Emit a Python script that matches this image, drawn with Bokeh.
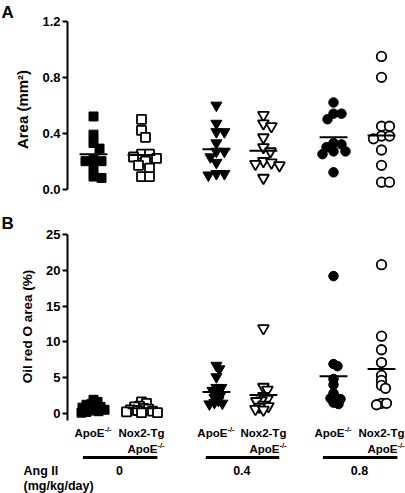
import numpy as np
from bokeh.plotting import figure
from bokeh.layouts import column
from bokeh.models import FixedTicker, PrintfTickFormatter, Title
from bokeh.core.properties import value
from bokeh.embed import file_html
from bokeh.resources import INLINE

# ---------------- data ----------------
genotypes = ["ApoE", "Nox2-Tg", "ApoE", "Nox2-Tg", "ApoE", "Nox2-Tg"]
doses = ["0", "0.4", "0.8"]
positions = [0.0, 1.0, 2.56, 3.54, 5.0, 6.0]

area_apoe_0 = [0.52, 0.39, 0.33, 0.29, 0.21, 0.20, 0.20, 0.15, 0.08, 0.09]
area_nox_0 = [0.50, 0.42, 0.37, 0.25, 0.25, 0.23, 0.22, 0.20, 0.17, 0.15, 0.09, 0.09]
area_apoe_04 = [0.60, 0.47, 0.41, 0.41, 0.33, 0.27, 0.27, 0.23, 0.19, 0.11, 0.10, 0.11]
area_nox_04 = [0.53, 0.47, 0.45, 0.37, 0.30, 0.27, 0.20, 0.19, 0.18, 0.17, 0.08]
area_apoe_08 = [0.62, 0.54, 0.54, 0.50, 0.33, 0.32, 0.30, 0.27, 0.27, 0.25, 0.12]
area_nox_08 = [0.95, 0.80, 0.45, 0.45, 0.38, 0.38, 0.36, 0.28, 0.17, 0.05, 0.05]
area_means = [0.25, 0.245, 0.285, 0.275, 0.372, 0.383]

oil_apoe_0 = [1.9, 1.6, 1.3, 1.2, 1.0, 0.9, 0.8, 0.7, 0.5, 0.4, 0.3, 0.2, 0.1]
oil_nox_0 = [1.6, 1.4, 1.0, 0.9, 0.7, 0.6, 0.5, 0.4, 0.3, 0.2, 0.1, 0.1]
oil_apoe_04 = [6.7, 6.2, 5.1, 3.6, 3.6, 3.2, 2.8, 2.5, 2.2, 1.8, 1.4, 1.3, 1.5]
oil_nox_04 = [11.9, 3.7, 3.3, 2.4, 2.0, 1.8, 1.7, 1.2, 1.0, 0.9, 0.6, 0.5]
oil_apoe_08 = [19.2, 6.9, 6.6, 4.8, 4.0, 2.8, 2.2, 2.1, 2.0, 1.5, 1.3]
oil_nox_08 = [20.8, 10.8, 8.9, 7.1, 5.3, 4.6, 3.9, 3.5, 1.4, 1.2, 1.4]
oil_means = [0.84, 0.70, 3.0, 2.55, 5.2, 6.2]

area_ticks = [0.0, 0.4, 0.8, 1.2]
oil_ticks = [0, 5, 10, 15, 20, 25]

area_sets = [area_apoe_0, area_nox_0, area_apoe_04, area_nox_04, area_apoe_08, area_nox_08]
oil_sets = [oil_apoe_0, oil_nox_0, oil_apoe_04, oil_nox_04, oil_apoe_08, oil_nox_08]

# ---------------- layout / style ----------------
FONT = "Liberation Sans"
W = 405
LEFT = 67
PX_X = 48.0
XL = -26.0 / PX_X
XR = XL + (W - LEFT) / PX_X

markers = ["square", "square", "inverted_triangle", "inverted_triangle", "circle", "circle"]
fills = ["black", "white", "black", "white", "black", "white"]
msize = {"square": 9, "inverted_triangle": 11, "circle": 9.5}


def swarm(vals, py, diam):
    placed = []
    offs = [0.0] * len(vals)
    order = sorted(range(len(vals)), key=lambda i: -vals[i])
    for i in order:
        y = vals[i] * py
        k = 0
        while True:
            cand = ((k + 1) // 2) * (1 if k % 2 else -1) * 1.0
            if all((cand - dx) ** 2 + (y - yy) ** 2 >= diam ** 2 for dx, yy in placed):
                break
            k += 1
        placed.append((cand, y))
        offs[i] = cand / PX_X
    return offs


def style_axis(ax, label, ticks, fmt, bounds, label_size):
    ax.axis_label = label
    ax.ticker = FixedTicker(ticks=ticks)
    ax.formatter = PrintfTickFormatter(format=fmt)
    ax.bounds = bounds
    ax.axis_line_width = 2
    ax.axis_line_color = "black"
    ax.major_tick_line_width = 2
    ax.major_tick_line_color = "black"
    ax.major_tick_in = 0
    ax.major_tick_out = 5
    ax.minor_tick_line_color = None
    ax.major_label_text_font = FONT
    ax.major_label_text_font_style = "bold"
    ax.major_label_text_font_size = "13px"
    ax.major_label_text_color = "black"
    ax.major_label_standoff = 2
    ax.axis_label_text_font = FONT
    ax.axis_label_text_font_style = "bold"
    ax.axis_label_text_font_size = label_size
    ax.axis_label_text_color = "black"
    ax.axis_label_standoff = 8


def panel(height, top, bottom, yr, sets, means, label, label_size, ticks, fmt,
          bounds, letter, diam):
    p = figure(width=W, height=height, x_range=(XL, XR), y_range=yr,
               output_backend="svg", toolbar_location=None, x_axis_location=None,
               min_border_left=LEFT, min_border_right=0, min_border_top=top,
               min_border_bottom=bottom)
    p.outline_line_color = None
    p.grid.visible = False
    style_axis(p.yaxis[0], label, ticks, fmt, bounds, label_size)
    t = Title(text=letter, align="left", offset=-(LEFT - 1), standoff=0,
              text_font=FONT, text_font_style="bold", text_font_size="17px",
              text_color="black")
    p.add_layout(t, "above")
    frame_h = height - top - bottom
    py = frame_h / (yr[1] - yr[0])
    for i, vals in enumerate(sets):
        offs = swarm(vals, py, diam)
        xs = [positions[i] + o for o in offs]
        p.scatter(xs, vals, marker=markers[i], size=msize[markers[i]],
                  fill_color=fills[i], line_color="black",
                  line_width=1.0 if fills[i] == "black" else 1.8)
    pos = np.array(positions)
    p.segment(x0=pos - 0.29, x1=pos + 0.29, y0=means, y1=means,
              line_color="black", line_width=2)
    return p


pA = panel(200, 19, 3, (-0.06, 1.2), area_sets, area_means, "Area (mm²)", "15px",
           area_ticks, "%.1f", (0, 1.2), "A", 8.0)
pB = panel(221, 32, 1, (-1.0, 25.3), oil_sets, oil_means, "Oil red O area (%)", "13.5px",
           oil_ticks, "%d", (-1, 25), "B", 4.5)

# ---------------- bottom strip: group labels, dose bars ----------------
CH = 72
pC = figure(width=W, height=CH, x_range=(XL - LEFT / PX_X, XR), y_range=(0, CH),
            output_backend="svg", toolbar_location=None,
            x_axis_location=None, y_axis_location=None,
            min_border_left=0, min_border_right=0, min_border_top=0, min_border_bottom=0)
pC.outline_line_color = None
pC.grid.visible = False
pC.frame_align = False

fs = "11.5px"
tk = dict(text_font=value(FONT), text_font_style="bold", text_color="black")
apoe_x = [positions[i] for i in range(6) if genotypes[i] == "ApoE"]
nox_x = [positions[i] for i in range(6) if genotypes[i] == "Nox2-Tg"]

# ApoE-/- (single line, centred on the group)
pC.text(x=apoe_x, y=[61] * 3, text=["ApoE"] * 3, x_offset=11, text_align="right",
        text_baseline="middle", text_font_size=fs, **tk)
pC.text(x=apoe_x, y=[64.5] * 3, text=["-/-"] * 3, x_offset=11, text_align="left",
        text_baseline="middle", text_font_size="7.5px", **tk)
# Nox2-Tg / ApoE-/-
pC.text(x=nox_x, y=[61] * 3, text=["Nox2-Tg"] * 3, text_align="center",
        text_baseline="middle", text_font_size=fs, **tk)
pC.text(x=nox_x, y=[45] * 3, text=["ApoE"] * 3, x_offset=16, text_align="right",
        text_baseline="middle", text_font_size=fs, **tk)
pC.text(x=nox_x, y=[48.5] * 3, text=["-/-"] * 3, x_offset=16, text_align="left",
        text_baseline="middle", text_font_size="7.5px", **tk)

# dose bars and dose labels
ax0 = np.array(apoe_x)
nx0 = np.array(nox_x)
pC.segment(x0=ax0 - 0.22, x1=nx0 + 0.33, y0=[36] * 3, y1=[36] * 3,
           line_color="black", line_width=3)
pC.text(x=(ax0 + nx0) / 2 + 0.04, y=[23] * 3, text=doses, text_align="center",
        text_baseline="middle", text_font_size="12.5px", **tk)
lx = XL - LEFT / PX_X + 23 / PX_X
pC.text(x=[lx, lx], y=[23, 8], text=["Ang II", "(mg/kg/day)"], text_align="left",
        text_baseline="middle", text_font_size="12.5px", **tk)

layout = column(pA, pB, pC, spacing=0)
open("out.html", "w").write(file_html(layout, INLINE))
